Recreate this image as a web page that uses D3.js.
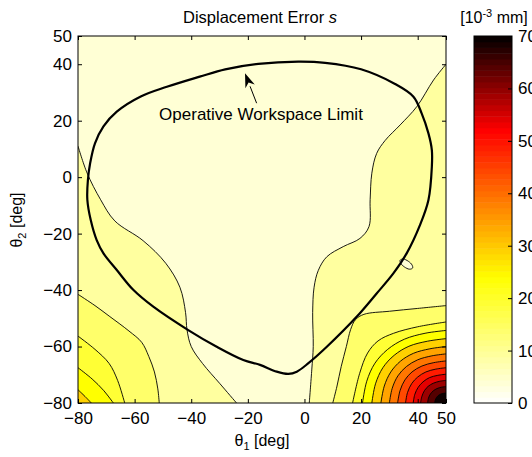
<!DOCTYPE html>
<html>
<head>
<meta charset="utf-8">
<script src="https://cdn.jsdelivr.net/npm/d3@7"></script>
<style>
  body { margin: 0; background: #fff; }
  text { font-family: "Liberation Sans", Arial, sans-serif; fill: #000; }
</style>
</head>
<body>
<svg id="chart" width="532" height="457"></svg>
<script>
// tick values
var ticksX = [-80, -60, -40, -20, 0, 20, 40, 50];
var ticksY = [-80, -60, -40, -20, 0, 20, 40, 50];
var ticksBar = [0, 10, 20, 30, 40, 50, 60, 70];

// contour levels [10^-3 mm], step 5; a band is painted a bit below its upper level
var levels = [5, 10, 15, 20, 25, 30, 35, 40, 45, 50, 55, 60, 65];
var bandShade = 4;

// contour lines, [theta1, theta2] in deg
var lineLeft5 = [[-80, 11], [-76.8, 1.5], [-72, -8], [-67, -15.5], [-57, -22.5], [-49, -30.5],
  [-44, -39], [-42, -48], [-41.5, -54], [-40, -60], [-36, -66], [-30, -73], [-24, -80]];
var lineRight5 = [[50, 40], [45.6, 34.4], [39.7, 25], [33.8, 18.5], [28.5, 13], [25.5, 8.4],
  [23.8, 1.4], [23.2, -8], [22.8, -17.5], [19.6, -21.7], [13.7, -24.6], [7.9, -28.2],
  [4.9, -33], [3.4, -39], [2.9, -48], [3.1, -60], [2.6, -68], [1.7, -80]];
var island5 = [[38.2, -32.2], [37.1, -32.6], [35.3, -31.8], [34, -30.5], [33.8, -29.4],
  [34.9, -29], [36.7, -29.8], [38, -31.1]];

var lineLeft10 = [[-80, -41.5], [-74, -45.5], [-69, -49.2], [-62, -54.5], [-57.5, -58.5],
  [-55, -63.5], [-53, -69], [-51.8, -75], [-51.3, -80]];
var lineLeft15 = [[-80, -56.3], [-74, -61], [-69, -66], [-66, -72], [-63.5, -80]];
var lineLeft20 = [[-80, -67.5], [-75, -71.5], [-71, -75.5], [-67.5, -80]];
var lineLeft25 = [[-80, -75.3], [-77.5, -77.7], [-75.3, -80]];

var lineRight10 = [[50, -45.5], [40, -46.5], [30, -47.5], [21, -48.6], [18, -50.5], [16.3, -54],
  [14.8, -60], [13, -67], [11.5, -74], [10, -80]];
var lineRight15 = [[50, -51.3], [40, -53], [31.5, -55.3], [26, -58], [22.3, -62.3], [19.5, -69.5], [17, -80]];
var lineRight20 = [[50, -54.3], [42.6, -55.3], [35.3, -57.4], [29.4, -61], [24.9, -65.9], [22, -72.3], [20.5, -80]];
var lineRight25 = [[50, -57.2], [43.5, -58.1], [36.9, -59.9], [31.7, -63.1], [27.7, -67.5], [25.1, -73.2], [23.8, -80]];
var lineRight30 = [[50, -60], [44.3, -60.8], [38.5, -62.4], [33.9, -65.2], [30.5, -69], [28.2, -74], [27, -80]];
var lineRight35 = [[50, -62.6], [45, -63.3], [40, -64.7], [36, -67.1], [33, -70.4], [31, -74.8], [30, -80]];
var lineRight40 = [[50, -65.1], [45.7, -65.7], [41.5, -66.9], [38, -69], [35.5, -71.8], [33.8, -75.5], [32.9, -80]];
var lineRight45 = [[50, -67.5], [46.4, -68], [42.9, -69], [40, -70.8], [37.9, -73.1], [36.4, -76.3], [35.7, -80]];
var lineRight50 = [[50, -69.8], [47.1, -70.2], [44.2, -71], [41.9, -72.5], [40.2, -74.4], [39, -76.9], [38.4, -80]];
var lineRight55 = [[50, -72], [47.8, -72.3], [45.5, -73], [43.7, -74.1], [42.4, -75.6], [41.5, -77.6], [41, -80]];
var lineRight60 = [[50, -74.2], [48.4, -74.4], [46.8, -74.9], [45.5, -75.7], [44.5, -76.8], [43.8, -78.3], [43.5, -80]];
var lineRight65 = [[50, -76.5], [49, -76.6], [48, -76.9], [47.2, -77.4], [46.6, -78.1], [46.2, -79], [46, -80]];

// operative workspace limit (closed)
var workspace = [[-76.7, -8], [-76.5, -1], [-75.7, 5], [-74, 12], [-71, 18], [-66.3, 23.2], [-58, 28.5],
  [-48.6, 32], [-37, 35.6], [-28, 38.2], [-16.3, 40.1], [-2.2, 40.9], [7.3, 40.5], [20, 38.2],
  [32, 33], [38.5, 28.5], [41.4, 22.6], [43.8, 15.5], [45, 9.6], [45, 3.7], [43.8, -8.1],
  [40.8, -17], [36.1, -27], [31.4, -34.1], [25.5, -41.2], [18.5, -49.4], [7.9, -60.1],
  [1.4, -65.9], [-2.7, -68.9], [-5.7, -69.7], [-9.8, -68.9], [-15.7, -66.5], [-21.6, -64.8],
  [-31, -60.1], [-41.2, -54.1], [-53.4, -45.9], [-60.4, -40], [-66.3, -32.9], [-71, -27],
  [-73.4, -22.3], [-75.5, -15.2]];

// annotation arrow (tail, tip)
var arrowFrom = [-16.9, 26.2];
var arrowTo = [-21, 36.8];

var svg = d3.select("#chart");

var x = d3.scaleLinear().domain([-80, 50]).range([78, 446]);
var y = d3.scaleLinear().domain([-80, 50]).range([403, 36]);

// reversed "hot" as seen on the colorbar
var cmap = d3.scaleLinear()
  .domain([0, 24, 52, 70])
  .range(["#ffffff", "#ffff00", "#ff0000", "#000000"])
  .clamp(true);
function bandColor(lower) { return cmap(lower + bandShade); }

var line = d3.line().x(function (d) { return x(d[0]); }).y(function (d) { return y(d[1]); })
  .curve(d3.curveCatmullRom.alpha(0.5));
var loop = d3.line().x(function (d) { return x(d[0]); }).y(function (d) { return y(d[1]); })
  .curve(d3.curveCatmullRomClosed.alpha(0.5));

svg.append("clipPath").attr("id", "plotClip")
  .append("rect").attr("x", 78).attr("y", 36).attr("width", 368).attr("height", 367);

var plot = svg.append("g").attr("clip-path", "url(#plotClip)");

// band above first level covers everything, pale region cut out of it
plot.append("rect")
  .attr("x", 78).attr("y", 36).attr("width", 368).attr("height", 367)
  .style("fill", bandColor(levels[0]));

var paleRight = lineRight5.slice().reverse();
var palePath = line(lineLeft5)
  + "L" + x(50) + "," + y(-80)
  + line(paleRight).replace(/^M/, "L")
  + "L" + x(50) + "," + y(50)
  + "L" + x(-80) + "," + y(50) + "Z";
plot.append("path").attr("d", palePath).style("fill", bandColor(0));
plot.append("path").attr("d", loop(island5)).style("fill", bandColor(0));

// higher bands, filled toward their corner
var bands = [
  { level: 10, pts: lineLeft10, corner: [-80, -80] },
  { level: 15, pts: lineLeft15, corner: [-80, -80] },
  { level: 20, pts: lineLeft20, corner: [-80, -80] },
  { level: 25, pts: lineLeft25, corner: [-80, -80] },
  { level: 10, pts: lineRight10, corner: [50, -80] },
  { level: 15, pts: lineRight15, corner: [50, -80] },
  { level: 20, pts: lineRight20, corner: [50, -80] },
  { level: 25, pts: lineRight25, corner: [50, -80] },
  { level: 30, pts: lineRight30, corner: [50, -80] },
  { level: 35, pts: lineRight35, corner: [50, -80] },
  { level: 40, pts: lineRight40, corner: [50, -80] },
  { level: 45, pts: lineRight45, corner: [50, -80] },
  { level: 50, pts: lineRight50, corner: [50, -80] },
  { level: 55, pts: lineRight55, corner: [50, -80] },
  { level: 60, pts: lineRight60, corner: [50, -80] },
  { level: 65, pts: lineRight65, corner: [50, -80] }
];

plot.selectAll("path.band").data(bands).enter().append("path")
  .attr("class", "band")
  .attr("d", function (b) { return line(b.pts) + "L" + x(b.corner[0]) + "," + y(b.corner[1]) + "Z"; })
  .style("fill", function (b) { return bandColor(b.level); });

// contour lines
var allLines = [lineLeft5, lineRight5].concat(bands.map(function (b) { return b.pts; }));
plot.selectAll("path.cline").data(allLines).enter().append("path")
  .attr("class", "cline")
  .attr("d", line)
  .style("fill", "none").style("stroke", "#000").style("stroke-width", 0.9);
plot.append("path").attr("d", loop(island5))
  .style("fill", "none").style("stroke", "#000").style("stroke-width", 0.9);

// workspace limit
plot.append("path").attr("d", loop(workspace))
  .style("fill", "none").style("stroke", "#000").style("stroke-width", 2.2);

// annotation
var ax0 = x(arrowFrom[0]), ay0 = y(arrowFrom[1]), ax1 = x(arrowTo[0]), ay1 = y(arrowTo[1]);
var ang = Math.atan2(ay1 - ay0, ax1 - ax0);
var hl = 14, hw = 5;
var bx = ax1 - hl * Math.cos(ang), by = ay1 - hl * Math.sin(ang);
svg.append("line")
  .attr("x1", ax0).attr("y1", ay0).attr("x2", bx).attr("y2", by)
  .style("stroke", "#000").style("stroke-width", 1);
svg.append("polygon")
  .attr("points", [
    [ax1, ay1],
    [bx + hw * Math.sin(ang), by - hw * Math.cos(ang)],
    [ax1 - 0.7 * hl * Math.cos(ang), ay1 - 0.7 * hl * Math.sin(ang)],
    [bx - hw * Math.sin(ang), by + hw * Math.cos(ang)]
  ].map(function (p) { return p.join(","); }).join(" "))
  .style("fill", "#000");
svg.append("text")
  .attr("x", 261).attr("y", 120).attr("text-anchor", "middle")
  .style("font-size", "17px")
  .text("Operative Workspace Limit");

// axes, ticks pointing inward on all four sides
var fs = "17px";
var axBottom = svg.append("g").attr("transform", "translate(0,403)")
  .call(d3.axisBottom(x).tickValues(ticksX).tickSizeInner(-4).tickSizeOuter(0).tickPadding(9));
var axTop = svg.append("g").attr("transform", "translate(0,36)")
  .call(d3.axisTop(x).tickValues(ticksX).tickSizeInner(-4).tickSizeOuter(0).tickFormat(""));
var axLeft = svg.append("g").attr("transform", "translate(78,0)")
  .call(d3.axisLeft(y).tickValues(ticksY).tickSizeInner(-4).tickSizeOuter(0).tickPadding(6));
var axRight = svg.append("g").attr("transform", "translate(446,0)")
  .call(d3.axisRight(y).tickValues(ticksY).tickSizeInner(-4).tickSizeOuter(0).tickFormat(""));
[axBottom, axTop, axLeft, axRight].forEach(function (g) {
  g.select(".domain").remove();
  g.selectAll("line").style("stroke", "#000");
  g.selectAll("text").style("font-size", fs).style("font-family", "'Liberation Sans', Arial, sans-serif").style("fill", "#000");
});
svg.append("rect").attr("x", 78).attr("y", 36).attr("width", 368).attr("height", 367)
  .style("fill", "none").style("stroke", "#000").style("stroke-width", 1);

// titles
var title = svg.append("text").attr("x", 260).attr("y", 23).attr("text-anchor", "middle").style("font-size", "16.5px");
title.append("tspan").text("Displacement Error ");
title.append("tspan").style("font-style", "italic").text("s");

var xl = svg.append("text").attr("x", 262).attr("y", 446).attr("text-anchor", "middle").style("font-size", "16px");
xl.append("tspan").text("θ");
xl.append("tspan").attr("dy", 4).style("font-size", "11px").text("1");
xl.append("tspan").attr("dy", -4).text(" [deg]");

var yl = svg.append("text").attr("transform", "translate(22,220) rotate(-90)").attr("text-anchor", "middle").style("font-size", "16px");
yl.append("tspan").text("θ");
yl.append("tspan").attr("dy", 4).style("font-size", "11px").text("2");
yl.append("tspan").attr("dy", -4).text(" [deg]");

// colorbar
var cb = d3.scaleLinear().domain([0, 70]).range([403, 36]);
var steps = d3.range(64);
svg.append("g").selectAll("rect").data(steps).enter().append("rect")
  .attr("x", 474).attr("width", 38)
  .attr("y", function (i) { return cb((i + 1) * 70 / 64); })
  .attr("height", function (i) { return cb(i * 70 / 64) - cb((i + 1) * 70 / 64) + 0.5; })
  .style("fill", function (i) { return cmap((i + 0.5) * 70 / 64); });
var cbAxis = svg.append("g").attr("transform", "translate(512,0)")
  .call(d3.axisRight(cb).tickValues(ticksBar).tickSizeInner(-4).tickSizeOuter(0).tickPadding(6));
cbAxis.select(".domain").remove();
cbAxis.selectAll("line").style("stroke", "#000");
cbAxis.selectAll("text").style("font-size", fs).style("font-family", "'Liberation Sans', Arial, sans-serif").style("fill", "#000");
svg.append("rect").attr("x", 474).attr("y", 36).attr("width", 38).attr("height", 367)
  .style("fill", "none").style("stroke", "#000").style("stroke-width", 1);

var unit = svg.append("text").attr("x", 494).attr("y", 23).attr("text-anchor", "middle").style("font-size", "16px");
unit.append("tspan").text("[10");
unit.append("tspan").attr("dy", -6).style("font-size", "11px").text("-3");
unit.append("tspan").attr("dy", 6).text(" mm]");
</script>
</body>
</html>
